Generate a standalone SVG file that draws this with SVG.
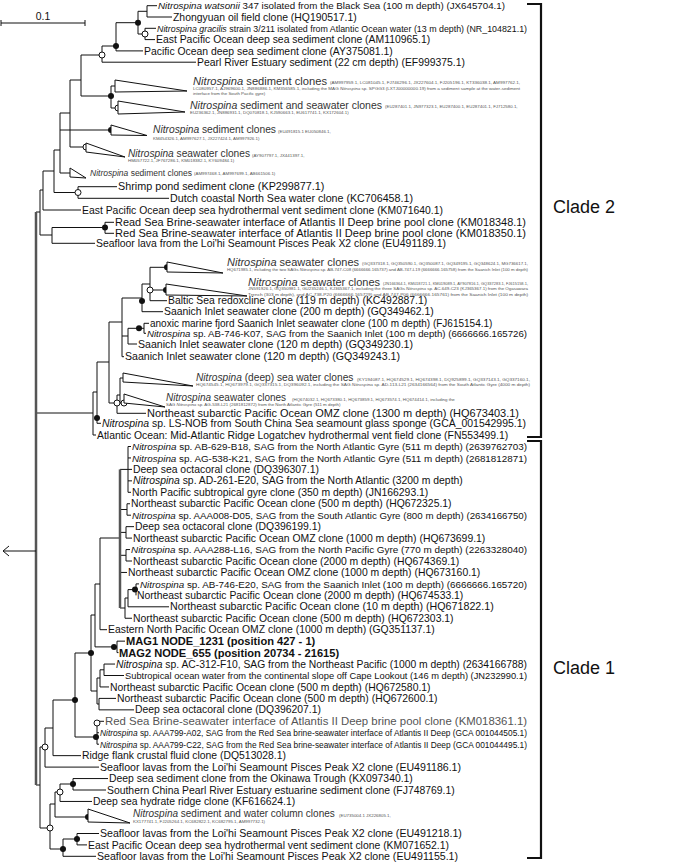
<svg xmlns="http://www.w3.org/2000/svg" width="685" height="862" viewBox="0 0 685 862">
<style>
text{font-family:"Liberation Sans",Arial,sans-serif;font-size:10.4px;fill:#111}
.c{fill:#333}
.s{font-size:4.4px;fill:#555}
.g{fill:#555}
.i{font-style:italic}
.b{font-weight:bold;font-size:11.1px}
.cl{font-size:18px}
.ln{stroke:#111;stroke-width:1;fill:none}
.rt{stroke:#555;stroke-width:2.5;fill:none}
.br{stroke:#111;stroke-width:2.2;fill:none}
.tri{fill:#fff;stroke:#111;stroke-width:1}
.f{fill:#111}
.o{fill:#fff;stroke:#111;stroke-width:1}
</style>
<defs>
<circle id="fc" r="3" class="f"/>
<circle id="oc" r="3" class="o"/>
</defs>
<g id="scale">
<path class="ln" d="M1 23H85M1 20V26M85 20V26"/>
<text x="43" y="20" text-anchor="middle">0.1</text>
</g>
<g id="connectors">
<path class="ln" d="M147 5.7V17M147 5.7H157M147 17H172M145 28.3V39.6M145 28.3H156M145 39.6H155M138 11.3V34M138 11.3H147M138 34H145M116 22.7V50.9M116 22.7H138M116 50.9H143M102 46V62.2M102 46H116M102 62.2H196M81 55V96M81 55H102M111 86V108M111 86H115M111 108H118M81 96H111M70 80V147M70 80H81M70 147H86M60 113V173M60 113H70M60 130H111M60 173H70M54 150V192.5M54 150H60M78 186.7V198.3M54 192.5H78M78 186.7H117M78 198.3H169M43 171V210M43 171H54M43 210H81M105 222.3V233.3M105 222.3H114M105 233.3H114M52 227.5V243.3M52 227.5H105M52 243.3H95M40 190V235M40 190H43M40 235H52M36 212H40"/>
<path class="ln" d="M150 267.3V300.7M150 267.3H167M150 290H166M150 300.7H167M142 284V311.7M142 284H150M142 311.7H163M144 323.3V333.3M144 323.3H149M144 333.3H146M128 328.3H144M128 328.3V344M128 344H137M122 298V356.7M122 298H142M122 336H128M122 356.7H124M120 378V403M120 378H123M120 403H124M117 395V413.3M117 395H120M117 413.3H146M109 322V403M109 322H122M109 403H117M97 362V423.3M97 362H109M97 423.3H101M93 392V435M93 392H97M93 435H96M36 413H93"/>
<path class="ln" d="M128 446.5V492.3M128 446.5H131M128 457.95H131M128 469.4H132M128 480.85H132M128 492.3H131M127 503.75V515.2M127 503.75H130M127 515.2H131M126 526.65V538.1M126 526.65H134M126 538.1H132M126 549.55V561M126 549.55H130M126 561H132M120 469.4H128M120 509.5H127M120 532.4H126M120 555.3H126M120 572.45H127M136 583.9V595.35M136 583.9H139M128 589.6V606.8M128 589.6H136M128 606.8H169M125 598V618.25M125 598H128M125 618.25H132M120 608H125M100 538V629.7M100 538H120M100 629.7H107M117 641.15V652.6M117 641.15H125M117 652.6H118.5M95 646.9H117M95 584V646.9M95 584H100M104 664.05V675.5M104 664.05H115M104 675.5H124M100 669.8V686.95M100 669.8H104M100 686.95H109M99 698.4V709.85M99 698.4H116M99 709.85H134M97 678V704M97 678H100M97 704H99M91 615V691M91 615H95M91 691H97M97 721.3V744.2M97 721.3H104M97 732.75H99M97 744.2H99M75 737H97M75 653V737M75 653H91M53 700V755.65M53 700H75M53 755.65H81M45 728V767.1M45 728H53M45 767.1H99M73 778.55V790M73 778.55H108M73 790H106M60 784V801.45M60 784H73M60 801.45H92M55 792V817M55 792H60M55 817H88M77 833.5V844.9M77 833.5H99M77 844.9H87M63 839V856.3M63 839H77M63 856.3H96M50 804V849M50 804H55M50 849H63M40 747V828M40 747H45M40 828H50M36 785H40"/>
<path class="rt" d="M120 469.4V608"/>
<path class="rt" d="M36 212V785"/>
<path class="ln" d="M3 551H36M9 546L3 551L9 556"/>
</g>
<g id="markers">
<use href="#fc" x="138" y="22.7"/><use href="#fc" x="116" y="46"/><use href="#fc" x="111" y="96"/><use href="#fc" x="111" y="130"/><use href="#fc" x="105" y="227.5"/><use href="#fc" x="167" y="267.3"/><use href="#fc" x="166" y="290"/><use href="#fc" x="142" y="301"/><use href="#fc" x="139" y="328.3"/><use href="#fc" x="97" y="418"/><use href="#fc" x="135" y="589.6"/><use href="#fc" x="114" y="646.9"/><use href="#fc" x="91" y="653"/><use href="#fc" x="75" y="700"/><use href="#fc" x="96" y="737"/><use href="#fc" x="73" y="784"/><use href="#fc" x="88" y="817"/><use href="#fc" x="77" y="839"/><use href="#fc" x="63" y="849"/>
<use href="#oc" x="145" y="34"/><use href="#oc" x="102" y="55"/><use href="#oc" x="118" y="108"/><use href="#oc" x="86" y="147"/><use href="#oc" x="78" y="192.5"/><use href="#oc" x="150" y="290"/><use href="#oc" x="124" y="403"/><use href="#oc" x="117" y="403"/><use href="#oc" x="97" y="723"/><use href="#oc" x="45" y="747"/><use href="#oc" x="60" y="792"/><use href="#oc" x="50" y="828"/>
</g>
<g id="n1"><text x="158" y="9.3" style="font-size:9.4px" textLength="347" lengthAdjust="spacingAndGlyphs"><tspan class="i">Nitrospina watsonii</tspan> 347 isolated from the Black Sea (100 m depth) (JX645704.1)</text></g>
<g id="n2"><text x="173" y="20.6">Zhongyuan oil field clone (HQ190517.1)</text></g>
<g id="n3"><text x="157" y="31.9" style="font-size:8.6px" textLength="370" lengthAdjust="spacingAndGlyphs"><tspan class="i">Nitrospina gracilis</tspan> strain 3/211 isolated from Atlantic Ocean water (13 m depth) (NR_104821.1)</text></g>
<g id="n4"><text x="156" y="43.2">East Pacific Ocean deep sea sediment clone (AM110965.1)</text></g>
<g id="n5"><text x="144" y="54.5">Pacific Ocean deep sea sediment clone (AY375081.1)</text></g>
<g id="n6"><text x="197" y="65.8">Pearl River Estuary sediment (22 cm depth) (EF999375.1)</text></g>
<g id="cA"><polygon class="tri" points="115,80 115,92 187,91"/><text class="c" x="193" y="84.5" style="font-size:11.3px" textLength="134" lengthAdjust="spacingAndGlyphs"><tspan class="i">Nitrospina</tspan> sediment clones</text><text class="s" x="330" y="84" textLength="190" lengthAdjust="spacingAndGlyphs">(AM997959.1, LC081045.1, FJ746296.1, JX227604.1, FJ205196.1, KT336038.1, AM997762.1,</text><text class="s" x="193" y="89.5" textLength="327" lengthAdjust="spacingAndGlyphs">LC080957.1, AJ969600.1, JN886886.1,  KM356585.1, including the MAG <tspan class="i">Nitrospina</tspan> sp. SPGG3 (LXTJ00000000.19) from a sediment sample at the water-sediment</text><text class="s" x="193" y="95">interface from the South Pacific gyre)</text></g>
<g id="cB"><polygon class="tri" points="118,101 118,114 185,112"/><text class="c" x="190" y="108.5" style="font-size:10.5px" textLength="192" lengthAdjust="spacingAndGlyphs"><tspan class="i">Nitrospina</tspan> sediment and seawater clones</text><text class="s" x="385" y="108">(EU287401.1, JN977323.1, EU287400.1, EU287401.1, FJ712580.1,</text><text class="s" x="190" y="113.5">EU236362.1, JN886931.1, DQ070818.1, KJ590663.1, EU617741.1, KX172604.1)</text></g>
<g id="cC"><polygon class="tri" points="111,125 111,135 147,135.5"/><text class="c" x="153" y="133" style="font-size:10.2px" textLength="123" lengthAdjust="spacingAndGlyphs"><tspan class="i">Nitrospina</tspan> sediment clones</text><text class="s" x="278" y="132.5">(EU491815.1 EU050846.1,</text><text class="s" x="153" y="139.5">KM454326.1, AM997627.1, JX227424.1, AM997926.1)</text></g>
<g id="cD"><polygon class="tri" points="86,143 86,152 125,157"/><text class="c" x="128" y="157" style="font-size:10.2px" textLength="122" lengthAdjust="spacingAndGlyphs"><tspan class="i">Nitrospina</tspan> seawater clones</text><text class="s" x="252" y="156.5">(AY907797.1, JX441397.1,</text><text class="s" x="128" y="162">HM057722.1, JF767286.1, KM018382.1, KY609484.1)</text></g>
<g id="cE"><polygon class="tri" points="70,168 70,177 86,178"/><text class="c" x="90" y="175.5" style="font-size:8.5px"><tspan class="i">Nitrospina</tspan> sediment clones</text><text class="s" x="194" y="175">(AM997468.1, AM997699.1, AB661506.1)</text></g>
<g id="n7"><text x="118" y="190.3" style="font-size:10.8px">Shrimp pond sediment clone (KP299877.1)</text></g>
<g id="n8"><text x="170" y="201.9" style="font-size:10.7px">Dutch coastal North Sea water clone (KC706458.1)</text></g>
<g id="n9"><text x="82" y="213.6">East Pacific Ocean deep sea hydrothermal vent sediment clone (KM071640.1)</text></g>
<g id="n10"><text x="115" y="225.9" textLength="411" lengthAdjust="spacingAndGlyphs">Read Sea Brine-seawater interface of Atlantis II Deep brine pool clone (KM018348.1)</text></g>
<g id="n11"><text x="115" y="236.9" textLength="411" lengthAdjust="spacingAndGlyphs">Red Sea Brine-seawater interface of Atlantis II Deep brine pool clone (KM018350.1)</text></g>
<g id="n12"><text x="96" y="247.3" style="font-size:10.4px" textLength="350" lengthAdjust="spacingAndGlyphs">Seafloor lava from the Loi'hi Seamount Pisces Peak X2 clone (EU491189.1)</text></g>
<g id="cT1"><polygon class="tri" points="167,262 167,272 223,273"/><text class="c" x="227" y="265.5" style="font-size:11px"><tspan class="i">Nitrospina</tspan> seawater clones</text><text class="s" x="362" y="265" textLength="166" lengthAdjust="spacingAndGlyphs">(GQ337318.1, GQ350590.1, GQ350087.1, GQ349195.1, GQ348624.1, MG736617.1,</text><text class="s" x="227" y="270.5" textLength="301" lengthAdjust="spacingAndGlyphs">HQ671985.1, including the two SAGs <tspan class="i">Nitrospina</tspan> sp. AB-747-C08 (6666666.165737) and AB-747-L19 (6666666.165758) from the Saanich Inlet (100 m depth)</text></g>
<g id="cT2"><polygon class="tri" points="166,284 166,295 247,296"/><text class="c" x="248" y="285.5" style="font-size:11px"><tspan class="i">Nitrospina</tspan> seawater clones</text><text class="s" x="383" y="285" textLength="145" lengthAdjust="spacingAndGlyphs">(JN166364.1, KM018721.1, KM019089.1, AY907816.1, GQ337283.1, FJ615158.1,</text><text class="s" x="248" y="290.3" textLength="280" lengthAdjust="spacingAndGlyphs">JN591926.1, GQ350981.1, GU235246.1, KJ365367.1, including the three SAGs <tspan class="i">Nitrospina</tspan> sp. AC-649-C23 (KJ365367.1) from the Ogasawara</text><text class="s" x="248" y="295.5" textLength="280" lengthAdjust="spacingAndGlyphs">Trench (303 m depth), and AC-738-P20 (6666666.165729) and AB-747-P06 (6666666.165761) from the Saanich Inlet (100 m depth)</text></g>
<g id="n13"><text x="168" y="304.3">Baltic Sea redoxcline clone (119 m depth) (KC492887.1)</text></g>
<g id="n14"><text x="164" y="315.3">Saanich Inlet seawater clone (200 m depth) (GQ349462.1)</text></g>
<g id="n15"><text x="150" y="326.9" style="font-size:10px">anoxic marine fjord Saanich Inlet seawater clone (100 m depth) (FJ615154.1)</text></g>
<g id="n16"><text x="147" y="336.9" style="font-size:9.5px" textLength="380" lengthAdjust="spacingAndGlyphs"><tspan class="i">Nitrospina</tspan> sp. AB-746-K07, SAG from the Saanich Inlet (100 m depth) (6666666.165726)</text></g>
<g id="n17"><text x="138" y="347.6" style="font-size:10.6px">Saanich Inlet seawater clone (120 m depth) (GQ349230.1)</text></g>
<g id="n18"><text x="125" y="360.3" style="font-size:10.6px">Saanich Inlet seawater clone (120 m depth) (GQ349243.1)</text></g>
<g id="cDS"><polygon class="tri" points="123,373 123,382 193,386"/><text class="c" x="196" y="381" style="font-size:10.2px"><tspan class="i">Nitrospina</tspan> (deep) sea water clones</text><text class="s" x="357" y="380.5" textLength="173" lengthAdjust="spacingAndGlyphs">(KY194087.1, HQ674529.1, HQ674398.1, DQ925899.1, GQ337143.1, GQ337160.1,</text><text class="s" x="196" y="386" textLength="334" lengthAdjust="spacingAndGlyphs">HQ674545.1, HQ673979.1, GQ337315.1, DQ396092.1, including the SAG <tspan class="i">Nitrospina</tspan> sp. AD-113-L21 (2634166564) from the South Atlantic Gyre (4000 m depth)</text></g>
<g id="cSW"><polygon class="tri" points="124,394 124,403 165,407"/><text class="c" x="166" y="401" style="font-size:10px"><tspan class="i">Nitrospina</tspan>  seawater clones</text><text class="s" x="292" y="400.5">(HQ674032.1, HQ673380.1, HQ673859.1, HQ673574.1, HQ674414.1, including the</text><text class="s" x="166" y="406">SAG <tspan class="i">Nitrospina</tspan> sp. AG-538-L21 (2681812872) from the North Atlantic Gyre (511 m depth)</text></g>
<g id="n19"><text x="147" y="416.7" style="font-size:10.2px" textLength="372" lengthAdjust="spacingAndGlyphs">Northeast subarctic Pacific Ocean OMZ clone (1300 m depth) (HQ673403.1)</text></g>
<g id="n20"><text x="102" y="427.2" style="font-size:10.2px" textLength="424" lengthAdjust="spacingAndGlyphs"><tspan class="i">Nitrospina</tspan> sp. LS-NOB from South China Sea seamount glass sponge (GCA_001542995.1)</text></g>
<g id="n21"><text x="97" y="438.6">Atlantic Ocean: Mid-Atlantic Ridge Logatchev hydrothermal vent field clone (FN553499.1)</text></g>
<g id="n22"><text x="132" y="450.1" style="font-size:9.6px" textLength="395" lengthAdjust="spacingAndGlyphs"><tspan class="i">Nitrospina</tspan> sp. AB-629-B18, SAG from the North Atlantic Gyre (511 m depth) (2639762703)</text></g>
<g id="n23"><text x="132" y="461.5" style="font-size:9.6px" textLength="395" lengthAdjust="spacingAndGlyphs"><tspan class="i">Nitrospina</tspan> sp. AG-538-K21, SAG from the  North Atlantic Gyre (511 m depth) (2681812871)</text></g>
<g id="n24"><text x="133" y="473">Deep sea octacoral clone (DQ396307.1)</text></g>
<g id="n25"><text x="133" y="484.4"><tspan class="i">Nitrospina</tspan> sp. AD-261-E20, SAG from the North Atlantic (3200 m depth)</text></g>
<g id="n26"><text x="132" y="495.9">North Pacific subtropical gyre clone (350 m depth) (JN166293.1)</text></g>
<g id="n27"><text x="131" y="507.3">Northeast subarctic Pacific Ocean clone (500 m depth) (HQ672325.1)</text></g>
<g id="n28"><text x="132" y="518.8" style="font-size:9.6px" textLength="395" lengthAdjust="spacingAndGlyphs"><tspan class="i">Nitrospina</tspan> sp. AAA008-D05, SAG from the South Atlantic Gyre (800 m depth) (2634166750)</text></g>
<g id="n29"><text x="135" y="530.2">Deep sea octacoral clone (DQ396199.1)</text></g>
<g id="n30"><text x="133" y="541.7">Northeast subarctic Pacific Ocean OMZ clone (1000 m depth) (HQ673699.1)</text></g>
<g id="n31"><text x="131" y="553.1" style="font-size:9.7px" textLength="396" lengthAdjust="spacingAndGlyphs"><tspan class="i">Nitrospina</tspan> sp. AAA288-L16, SAG from the North Pacific Gyre (770 m depth) (2263328040)</text></g>
<g id="n32"><text x="133" y="564.6">Northeast subarctic Pacific Ocean clone (2000 m depth) (HQ674369.1)</text></g>
<g id="n33"><text x="128" y="576">Northeast subarctic Pacific Ocean OMZ clone (1000 m depth) (HQ673160.1)</text></g>
<g id="n34"><text x="140" y="587.5" style="font-size:9.6px" textLength="387" lengthAdjust="spacingAndGlyphs"><tspan class="i">Nitrospina</tspan> sp. AB-746-E20, SAG from the Saanich Inlet (100 m depth) (6666666.165720)</text></g>
<g id="n35"><text x="137" y="598.9">Northeast subarctic Pacific Ocean clone (2000 m depth) (HQ674533.1)</text></g>
<g id="n36"><text x="170" y="610.4" style="font-size:10.7px">Northeast subarctic Pacific Ocean clone (10 m depth) (HQ671822.1)</text></g>
<g id="n37"><text x="133" y="621.8">Northeast subarctic Pacific Ocean clone (500 m depth) (HQ672303.1)</text></g>
<g id="n38"><text x="108" y="633.3">Eastern North Pacific Ocean OMZ clone (1000 m depth) (GQ351137.1)</text></g>
<g id="n39"><text class="b" x="126" y="644.8">MAG1 NODE_1231 (position 427 - 1)</text></g>
<g id="n40"><text class="b" x="119" y="656.6">MAG2 NODE_655 (position 20734 - 21615)</text></g>
<g id="n41"><text x="116" y="667.8" style="font-size:10px" textLength="411" lengthAdjust="spacingAndGlyphs"><tspan class="i">Nitrospina</tspan> sp. AC-312-F10, SAG from the Northeast Pacific (1000 m depth) (2634166788)</text></g>
<g id="n42"><text x="125" y="679.1" style="font-size:9px" textLength="402" lengthAdjust="spacingAndGlyphs">Subtropical ocean water from the continental slope off Cape Lookout (146 m depth) (JN232990.1)</text></g>
<g id="n43"><text x="110" y="690.5">Northeast subarctic Pacific Ocean clone (500 m depth) (HQ672580.1)</text></g>
<g id="n44"><text x="117" y="702">Northeast subarctic Pacific Ocean clone (500 m depth) (HQ672600.1)</text></g>
<g id="n45"><text x="135" y="713.4">Deep sea octacoral clone (DQ396207.1)</text></g>
<g id="n46"><text class="g" x="105" y="724.9" textLength="422" lengthAdjust="spacingAndGlyphs">Red Sea Brine-seawater interface of Atlantis II Deep brine pool clone (KM018361.1)</text></g>
<g id="n47"><text x="100" y="736.3" style="font-size:8.2px" textLength="427" lengthAdjust="spacingAndGlyphs"><tspan class="i">Nitrospina</tspan> sp. AAA799-A02, SAG from the Red Sea brine-seawater interface of Atlantis II Deep (GCA 001044505.1)</text></g>
<g id="n48"><text x="100" y="747.8" style="font-size:8.2px" textLength="427" lengthAdjust="spacingAndGlyphs"><tspan class="i">Nitrospina</tspan> sp. AAA799-C22, SAG from the Red Sea brine-seawater interface of Atlantis II Deep (GCA 001044495.1)</text></g>
<g id="n49"><text x="82" y="759.2">Ridge flank crustal fluid clone (DQ513028.1)</text></g>
<g id="n50"><text x="100" y="770.7" style="font-size:10.6px">Seafloor lavas from the Loi'hi Seamount Pisces Peak X2 clone (EU491186.1)</text></g>
<g id="n51"><text x="109" y="782.1">Deep sea sediment clone from the Okinawa Trough (KX097340.1)</text></g>
<g id="n52"><text x="107" y="793.6">Southern China Pearl River Estuary estuarine sediment clone (FJ748769.1)</text></g>
<g id="n53"><text x="93" y="805">Deep sea hydrate ridge clone (KF616624.1)</text></g>
<g id="cF"><polygon class="tri" points="88,809 88,822 130,823"/><text class="c" x="133" y="817" style="font-size:10px"><tspan class="i">Nitrospina</tspan> sediment and water column clones</text><text class="s" x="339" y="816.5">(EU735004.1 JX226805.1,</text><text class="s" x="133" y="822.5">KX177741.1, FJ205264.1, KC682822.1, KC682795.1, AM997732.1)</text></g>
<g id="n54"><text x="100" y="837.1" style="font-size:10.6px">Seafloor lavas from the Loi'hi Seamount Pisces Peak X2 clone (EU491218.1)</text></g>
<g id="n55"><text x="88" y="848.5">East Pacific Ocean deep sea hydrothermal vent sediment clone (KM071652.1)</text></g>
<g id="n56"><text x="97" y="859.9" style="font-size:10.6px">Seafloor lavas from the Loi'hi Seamount Pisces Peak X2 clone (EU491155.1)</text></g>
<g id="clade2"><path class="br" d="M527 4H541V437H527"/><text class="cl" x="553" y="213">Clade 2</text></g>
<g id="clade1"><path class="br" d="M527 441H541V858H527"/><text class="cl" x="553" y="674">Clade 1</text></g>
</svg>
